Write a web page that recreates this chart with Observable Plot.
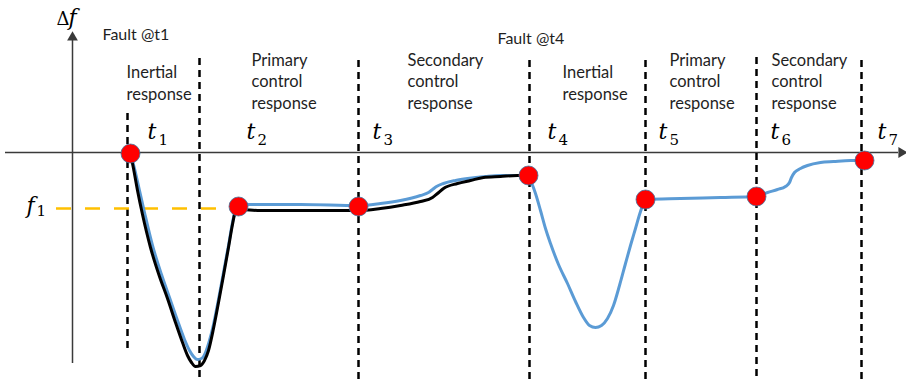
<!DOCTYPE html>
<html><head><meta charset="utf-8">
<script src="https://cdn.jsdelivr.net/npm/d3@7"></script>
<script src="https://cdn.jsdelivr.net/npm/@observablehq/plot@0.6"></script>
<style>body{margin:0;background:#fff}</style>
</head><body><div id="chart"></div>
<script>
// Schematic units: t = time (0 at the Δf axis), df = frequency deviation (0 on the time axis)
const boundaryT = [55, 127, 286, 457, 573, 684, 789];
const boundaryTop = [39, 94, 92, 92, 92, 95, 92];
const boundaryBottom = [-201, -229, -229, -229, -229, -229, -229];

const eventT = [58, 166, 286, 456, 573, 684, 792];
const eventDf = [-1, -54, -54, -23, -47, -44, -8];

const tickSubs = ["1", "2", "3", "4", "5", "6", "7"];
const tickLabelT = [75, 174, 300, 475, 586, 698, 805];

const phaseNames = ["Inertial\nresponse", "Primary\ncontrol\nresponse", "Secondary\ncontrol\nresponse",
                    "Inertial\nresponse", "Primary\ncontrol\nresponse", "Secondary\ncontrol\nresponse"];
const phaseT = [54, 179, 335, 490, 597, 699];
const phaseDf = [53, 44, 44, 53, 44, 44];

const faultNames = ["Fault @t1", "Fault @t4"];
const faultT = [30, 425];
const faultDf = [113, 109];

const f1Level = -56;
const f1From = -16, f1To = 158;

// response of the first event without (black) and with (blue) the alternative control
const blackT = [58,61,65,70,78,87,95,103,110,115,119,123,128,132,136,141,146,151,156,160,163,166,188,228,286,308,328,348,360,365,371,385,398,411,428,445,456];
const blackDf = [-1,-16,-38,-62,-95,-124,-146,-170,-190,-203,-210,-214,-213,-208,-198,-176,-150,-123,-95,-72,-59,-57,-58,-58,-58,-56,-53,-49,-45,-41,-36,-31,-28,-25,-24,-23,-23];

const blueT = [58,62,67,72,80,89,97,105,112,117,121,125,129,133,137,141,146,151,156,160,163,166,188,228,286,308,328,348,356,360,364,371,383,395,413,428,456,
  459,463,468,473,478,486,495,503,511,517,523,529,535,541,547,553,558,563,568,573,608,648,684,695,705,713,717,719,722,728,735,748,761,778,792];
const blueDf = [-1,-16,-38,-60,-93,-122,-145,-168,-187,-198,-204,-207,-206,-200,-188,-172,-147,-120,-93,-70,-57,-52,-52,-52,-53,-51,-48,-43,-40,-37,-34,-31,-28,-26,-24,-23,-23,
  -30,-41,-58,-76,-91,-112,-131,-149,-165,-173,-175,-173,-166,-153,-133,-111,-93,-76,-59,-47,-46,-45,-44,-40,-37,-34,-30,-25,-20,-16,-13,-10,-9,-8,-8];

const axisTStart = -67, axisTEnd = 826;
const axisDfStart = -211, axisDfEnd = 113;

const black = blackT.map((t, i) => ({t, df: blackDf[i]}));
const blue = blueT.map((t, i) => ({t, df: blueDf[i]}));
const bounds = boundaryT.map((t, i) => ({t, y1: boundaryTop[i], y2: boundaryBottom[i]}));
const events = eventT.map((t, i) => ({t, df: eventDf[i]}));
const ticks = tickLabelT.map((t, i) => ({t, sub: tickSubs[i]}));
const phases = phaseNames.map((name, i) => ({name, t: phaseT[i], df: phaseDf[i]}));
const faults = faultNames.map((name, i) => ({name, t: faultT[i], df: faultDf[i]}));

const textFont = "Lato";
const mathFont = "DejaVu Serif";

const chart = Plot.plot({
  width: 906, height: 381,
  marginTop: 0, marginRight: 0, marginBottom: 0, marginLeft: 0,
  x: {domain: [-72, 834], axis: null},
  y: {domain: [-229, 152], axis: null},
  style: {background: "#fff"},
  marks: [
    // axes
    Plot.ruleY([0], {x1: axisTStart, x2: axisTEnd, stroke: "#3a3a3a", strokeWidth: 1.5}),
    Plot.ruleX([0], {y1: axisDfStart, y2: axisDfEnd, stroke: "#3a3a3a", strokeWidth: 1.5}),
    Plot.dot([{t: 0, df: axisDfEnd + 2}], {x: "t", y: "df", symbol: "triangle", r: 4, fill: "#3a3a3a", stroke: null}),
    Plot.dot([{t: axisTEnd + 3, df: 0}], {x: "t", y: "df", symbol: "triangle", r: 4, rotate: 90, fill: "#3a3a3a", stroke: null}),
    // phase boundaries
    Plot.ruleX(bounds, {x: "t", y1: "y1", y2: "y2", stroke: "#000", strokeWidth: 2.5, strokeDasharray: "7,5"}),
    // f1 level
    Plot.ruleY([f1Level], {x1: f1From, x2: f1To, stroke: "#ffc000", strokeWidth: 2.5, strokeDasharray: "15,14"}),
    // curves
    Plot.line(blue, {x: "t", y: "df", stroke: "#5b9bd5", strokeWidth: 3, curve: "monotone-x"}),
    Plot.line(black, {x: "t", y: "df", stroke: "#000", strokeWidth: 3, curve: "monotone-x"}),
    Plot.dot(events, {x: "t", y: "df", r: 9.5, fill: "#ff0000", stroke: "#41719c", strokeWidth: 0.8}),
    // labels
    Plot.text(phases, {x: "t", y: "df", text: "name", textAnchor: "start", lineAnchor: "bottom", lineHeight: 1.3, fontFamily: textFont, fontSize: 16.5, fill: "#1f1f1f"}),
    Plot.text(faults, {x: "t", y: "df", text: "name", textAnchor: "start", lineAnchor: "bottom", fontFamily: textFont, fontSize: 16, fill: "#1f1f1f"}),
    Plot.text(ticks, {x: "t", y: 14, text: () => "t", textAnchor: "start", lineAnchor: "bottom", fontFamily: mathFont, fontStyle: "italic", fontSize: 22, fill: "#000"}),
    Plot.text(ticks, {x: "t", y: 14, text: "sub", dx: 11, dy: 6, textAnchor: "start", lineAnchor: "bottom", fontFamily: mathFont, fontSize: 15, fill: "#000"}),
    Plot.text([{t: -16, df: 128}], {x: "t", y: "df", text: () => "Δ", textAnchor: "start", lineAnchor: "bottom", fontFamily: mathFont, fontSize: 18, fill: "#000"}),
    Plot.text([{t: -16, df: 128}], {x: "t", y: "df", text: () => "f", dx: 12, textAnchor: "start", lineAnchor: "bottom", fontFamily: mathFont, fontStyle: "italic", fontSize: 22, fill: "#000"}),
    Plot.text([{t: -46, df: -60}], {x: "t", y: "df", text: () => "f", textAnchor: "start", lineAnchor: "bottom", fontFamily: mathFont, fontStyle: "italic", fontSize: 22, fill: "#000"}),
    Plot.text([{t: -46, df: -60}], {x: "t", y: "df", text: () => "1", dx: 10, dy: 3, textAnchor: "start", lineAnchor: "bottom", fontFamily: mathFont, fontSize: 15, fill: "#000"})
  ]
});
document.getElementById("chart").appendChild(chart);
</script>
</body></html>
